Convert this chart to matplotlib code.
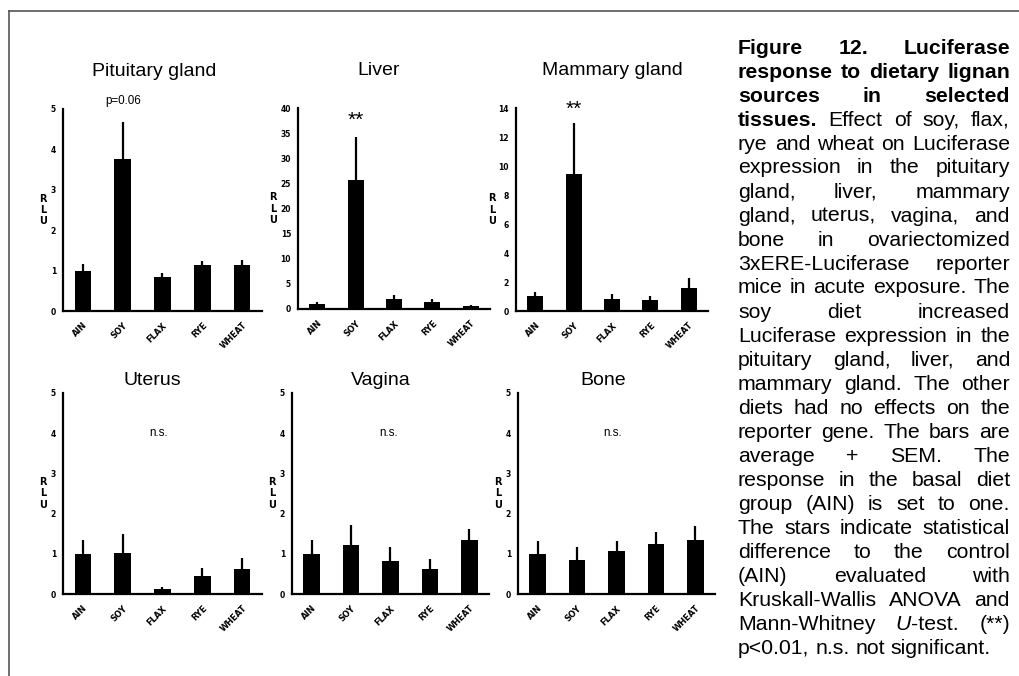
import matplotlib
matplotlib.use("Agg")
import matplotlib.pyplot as plt
from matplotlib.lines import Line2D
import numpy as np

# ---------------- data ----------------
categories = ["AIN", "SOY", "FLAX", "RYE", "WHEAT"]

panel_titles = ["Pituitary gland", "Liver", "Mammary gland", "Uterus", "Vagina", "Bone"]

pituitary_mean = [1.00, 3.77, 0.83, 1.14, 1.13]
pituitary_sem = [0.16, 0.92, 0.10, 0.09, 0.13]

liver_mean = [0.93, 25.6, 1.93, 1.40, 0.66]
liver_sem = [0.40, 8.6, 0.87, 0.53, 0.20]

mammary_mean = [1.01, 9.43, 0.81, 0.74, 1.61]
mammary_sem = [0.30, 3.57, 0.34, 0.32, 0.67]

uterus_mean = [1.00, 1.03, 0.12, 0.45, 0.63]
uterus_sem = [0.34, 0.46, 0.05, 0.20, 0.27]

vagina_mean = [1.00, 1.22, 0.81, 0.62, 1.35]
vagina_sem = [0.35, 0.49, 0.36, 0.24, 0.26]

bone_mean = [1.00, 0.84, 1.08, 1.24, 1.34]
bone_sem = [0.31, 0.33, 0.23, 0.29, 0.35]

y_max = [5, 40, 14, 5, 5, 5]
y_step = [1, 5, 2, 1, 1, 1]

annot_text = ["p=0.06", "**", "**", "n.s.", "n.s.", "n.s."]
annot_x = [1.0, 1.0, 1.0, 1.9, 1.95, 1.9]
annot_y = [5.2, 37.5, 13.9, 4.0, 4.0, 4.0]

caption_lines = [
    [[("Figure", "bold", "normal")], [("12.", "bold", "normal")], [("Luciferase", "bold", "normal")]],
    "B:response to dietary lignan",
    "B:sources in selected",
    [[("tissues.", "bold", "normal")], [("Effect", "normal", "normal")], [("of", "normal", "normal")],
     [("soy,", "normal", "normal")], [("flax,", "normal", "normal")]],
    "rye and wheat on Luciferase",
    "expression in the pituitary",
    "gland, liver, mammary",
    "gland, uterus, vagina, and",
    "bone in ovariectomized",
    "3xERE-Luciferase reporter",
    "mice in acute exposure. The",
    "soy diet increased",
    "Luciferase expression in the",
    "pituitary gland, liver, and",
    "mammary gland. The other",
    "diets had no effects on the",
    "reporter gene. The bars are",
    "average + SEM. The",
    "response in the basal diet",
    "group (AIN) is set to one.",
    "The stars indicate statistical",
    "difference to the control",
    "(AIN) evaluated with",
    "Kruskall-Wallis ANOVA and",
    [[("Mann-Whitney", "normal", "normal")], [("U", "normal", "italic"), ("-test.", "normal", "normal")],
     [("(**)", "normal", "normal")]],
    "L:p<0.01, n.s. not significant.",
]

means = [pituitary_mean, liver_mean, mammary_mean, uterus_mean, vagina_mean, bone_mean]
sems = [pituitary_sem, liver_sem, mammary_sem, uterus_sem, vagina_sem, bone_sem]

# ---------------- layout ----------------
W, H = 1020, 676
fig = plt.figure(figsize=(W / 100, H / 100), dpi=100)
fig.patch.set_facecolor("white")

# axes boxes in pixels: left, right, top, bottom
boxes = [
    (63, 262, 109, 311),
    (298, 490, 108, 309),
    (516, 708, 108, 311),
    (63, 262, 393, 594),
    (292, 489, 393, 594),
    (518, 715, 393, 594),
]
title_x = [0.46, 0.42, 0.50, 0.45, 0.45, 0.43]
title_pad = [24, 24, 24, 6, 6, 6]
rlu_off = [-20, -25, -24, -20, -20, -20]

for i in range(6):
    l, r, t, b = boxes[i]
    ax = fig.add_axes([l / W, 1 - b / H, (r - l) / W, (b - t) / H])
    x = np.arange(len(categories))
    ax.bar(x, means[i], width=0.42, color="black", edgecolor="black", linewidth=0, zorder=2)
    ax.errorbar(x, means[i], yerr=[np.zeros(len(x)), sems[i]], fmt="none",
                ecolor="black", elinewidth=1.6, capsize=0, zorder=1)
    ax.set_xlim(-0.5, 4.5)
    ax.set_ylim(0, y_max[i])
    ax.set_yticks(np.arange(0, y_max[i] + 0.001, y_step[i]))
    ax.set_yticklabels([f"{v:g}" for v in np.arange(0, y_max[i] + 0.001, y_step[i])],
                       fontsize=5.5, fontweight="bold", family="DejaVu Sans")
    ax.set_xticks(x)
    ax.set_xticklabels(categories, rotation=45, ha="right", rotation_mode="anchor",
                       fontsize=6, fontweight="bold", family="DejaVu Sans")
    ax.tick_params(axis="both", length=0)
    ax.tick_params(axis="y", pad=5)
    ax.tick_params(axis="x", pad=7)
    for s in ["top", "right"]:
        ax.spines[s].set_visible(False)
    for s in ["left", "bottom"]:
        ax.spines[s].set_linewidth(1.6)
        ax.spines[s].set_color("black")
    ax.set_title(panel_titles[i], x=title_x[i], pad=title_pad[i], fontsize=14,
                 family="Liberation Sans")
    ax.annotate("R\nL\nU", xy=(0, 0.5), xycoords="axes fraction", xytext=(rlu_off[i], 0),
                textcoords="offset pixels", ha="center", va="center", fontsize=7,
                fontweight="bold", family="DejaVu Sans", linespacing=1.15)
    if annot_text[i] == "**":
        ax.text(annot_x[i], annot_y[i], annot_text[i], ha="center", va="center",
                fontsize=15, family="Liberation Sans", clip_on=False)
    else:
        ax.text(annot_x[i], annot_y[i], annot_text[i], ha="center", va="center",
                fontsize=8.4, family="Liberation Sans", clip_on=False)

# frame lines
fig.add_artist(Line2D([9 / W, 1.0], [1 - 11 / H, 1 - 11 / H], color="#555555", lw=1.2))
fig.add_artist(Line2D([9 / W, 9 / W], [0, 1 - 11 / H], color="#555555", lw=1.2))

# ---------------- caption (justified) ----------------
renderer = fig.canvas.get_renderer()
FS = 15.3
X0, X1 = 738, 1010
Y0, DY = 48, 24.0


def parse(line):
    if isinstance(line, list):
        return line, True
    mode = "J"
    if line.startswith("B:"):
        line = line[2:]
        wt = "bold"
    elif line.startswith("L:"):
        line = line[2:]
        wt = "normal"
        mode = "L"
    else:
        wt = "normal"
    words = [[(w, wt, "normal")] for w in line.split()]
    return words, mode == "J"


sp = fig.text(0, 0, "a a", fontsize=FS, family="Liberation Sans")
spw = sp.get_window_extent(renderer).width - 2 * fig.text(0, 0, "a", fontsize=FS, family="Liberation Sans").get_window_extent(renderer).width
for tt in list(fig.texts):
    tt.remove()

for k, line in enumerate(caption_lines):
    words, justify = parse(line)
    y = 1 - (Y0 + k * DY) / H
    objs = []
    total = 0
    for w in words:
        segs = []
        ww = 0
        for (txt, wt, st) in w:
            t = fig.text(0, y, txt, fontsize=FS, fontweight=wt, fontstyle=st,
                         family="Liberation Sans", ha="left", va="center")
            bw = t.get_window_extent(renderer).width
            segs.append((t, bw))
            ww += bw
        objs.append(segs)
        total += ww
    n = len(objs)
    if justify and n > 1:
        gap = (X1 - X0 - total) / (n - 1)
    else:
        gap = spw
    xc = X0
    for segs in objs:
        for (t, bw) in segs:
            t.set_x(xc / W)
            xc += bw
        xc += gap

fig.savefig("out.png", dpi=100, facecolor="white")
